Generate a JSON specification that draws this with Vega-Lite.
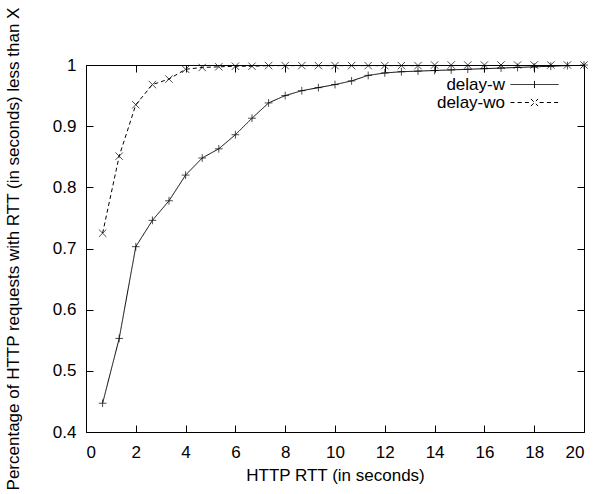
{
  "$schema": "https://vega.github.io/schema/vega-lite/v6.json",
  "autosize": "none",
  "width": 498,
  "height": 367,
  "padding": {"left": 86, "top": 65, "right": 12, "bottom": 62},
  "background": "white",
  "config": {
    "font": "Liberation Sans",
    "view": {"stroke": "black", "strokeWidth": 1},
    "axis": {"grid": false, "domain": false, "ticks": true, "tickColor": "black", "labelColor": "black", "titleColor": "black", "labelFontSize": 17, "titleFontSize": 17, "titleFontWeight": "normal", "labelFont": "Liberation Sans", "titleFont": "Liberation Sans", "tickWidth": 1, "tickSize": 7, "offset": -7}
  },
  "data": {
    "values": [
      {"series": "delay-w", "x": 0.667, "y": 0.447},
      {"series": "delay-w", "x": 1.333, "y": 0.553},
      {"series": "delay-w", "x": 2.0, "y": 0.703},
      {"series": "delay-w", "x": 2.667, "y": 0.746},
      {"series": "delay-w", "x": 3.333, "y": 0.778},
      {"series": "delay-w", "x": 4.0, "y": 0.820},
      {"series": "delay-w", "x": 4.667, "y": 0.848},
      {"series": "delay-w", "x": 5.333, "y": 0.863},
      {"series": "delay-w", "x": 6.0, "y": 0.886},
      {"series": "delay-w", "x": 6.667, "y": 0.913},
      {"series": "delay-w", "x": 7.333, "y": 0.938},
      {"series": "delay-w", "x": 8.0, "y": 0.950},
      {"series": "delay-w", "x": 8.667, "y": 0.958},
      {"series": "delay-w", "x": 9.333, "y": 0.963},
      {"series": "delay-w", "x": 10.0, "y": 0.968},
      {"series": "delay-w", "x": 10.667, "y": 0.974},
      {"series": "delay-w", "x": 11.333, "y": 0.983},
      {"series": "delay-w", "x": 12.0, "y": 0.987},
      {"series": "delay-w", "x": 12.667, "y": 0.989},
      {"series": "delay-w", "x": 13.333, "y": 0.990},
      {"series": "delay-w", "x": 14.0, "y": 0.991},
      {"series": "delay-w", "x": 14.667, "y": 0.992},
      {"series": "delay-w", "x": 15.333, "y": 0.993},
      {"series": "delay-w", "x": 16.0, "y": 0.994},
      {"series": "delay-w", "x": 16.667, "y": 0.995},
      {"series": "delay-w", "x": 17.333, "y": 0.996},
      {"series": "delay-w", "x": 18.0, "y": 0.997},
      {"series": "delay-w", "x": 18.667, "y": 0.998},
      {"series": "delay-w", "x": 19.333, "y": 0.999},
      {"series": "delay-w", "x": 20.0, "y": 1.0},
      {"series": "delay-wo", "x": 0.667, "y": 0.725},
      {"series": "delay-wo", "x": 1.333, "y": 0.851},
      {"series": "delay-wo", "x": 2.0, "y": 0.935},
      {"series": "delay-wo", "x": 2.667, "y": 0.968},
      {"series": "delay-wo", "x": 3.333, "y": 0.977},
      {"series": "delay-wo", "x": 4.0, "y": 0.993},
      {"series": "delay-wo", "x": 4.667, "y": 0.996},
      {"series": "delay-wo", "x": 5.333, "y": 0.997},
      {"series": "delay-wo", "x": 6.0, "y": 0.998},
      {"series": "delay-wo", "x": 6.667, "y": 0.998},
      {"series": "delay-wo", "x": 7.333, "y": 0.999},
      {"series": "delay-wo", "x": 8.0, "y": 0.999},
      {"series": "delay-wo", "x": 8.667, "y": 0.999},
      {"series": "delay-wo", "x": 9.333, "y": 0.999},
      {"series": "delay-wo", "x": 10.0, "y": 0.999},
      {"series": "delay-wo", "x": 10.667, "y": 0.999},
      {"series": "delay-wo", "x": 11.333, "y": 0.999},
      {"series": "delay-wo", "x": 12.0, "y": 0.999},
      {"series": "delay-wo", "x": 12.667, "y": 0.999},
      {"series": "delay-wo", "x": 13.333, "y": 0.999},
      {"series": "delay-wo", "x": 14.0, "y": 1.0},
      {"series": "delay-wo", "x": 14.667, "y": 1.0},
      {"series": "delay-wo", "x": 15.333, "y": 1.0},
      {"series": "delay-wo", "x": 16.0, "y": 1.0},
      {"series": "delay-wo", "x": 16.667, "y": 1.0},
      {"series": "delay-wo", "x": 17.333, "y": 1.0},
      {"series": "delay-wo", "x": 18.0, "y": 1.0},
      {"series": "delay-wo", "x": 18.667, "y": 1.0},
      {"series": "delay-wo", "x": 19.333, "y": 1.0},
      {"series": "delay-wo", "x": 20.0, "y": 1.0}
    ]
  },
  "resolve": {"axis": {"x": "independent", "y": "independent"}},
  "layer": [
    {
      "mark": {"type": "line", "strokeWidth": 1, "clip": true},
      "encoding": {
        "x": {"field": "x", "type": "quantitative", "scale": {"domain": [0, 20], "nice": false, "zero": false},
          "axis": {"orient": "bottom", "values": [0,2,4,6,8,10,12,14,16,18,20], "labelPadding": 12, "title": "HTTP RTT (in seconds)", "titlePadding": 7}},
        "y": {"field": "y", "type": "quantitative", "scale": {"domain": [0.4, 1], "nice": false, "zero": false},
          "axis": {"orient": "left", "values": [0.4,0.5,0.6,0.7,0.8,0.9,1], "format": "~g", "labelPadding": 10, "title": "Percentage of HTTP requests with RTT (in seconds) less than X", "titlePadding": 30}},
        "strokeDash": {"field": "series", "type": "nominal", "scale": {"domain": ["delay-w", "delay-wo"], "range": [[1, 0], [4, 3]]}, "legend": null},
        "color": {"field": "series", "type": "nominal", "scale": {"domain": ["delay-w", "delay-wo"], "range": ["black", "black"]},
          "legend": {
            "title": null,
            "orient": "none",
            "legendX": 440,
            "legendY": 11,
            "padding": 0,
            "labelFontSize": 17,
            "labelFont": "Liberation Sans",
            "labelColor": "black",
            "labelAlign": "right",
            "labelOffset": -38,
            "symbolSize": 64,
            "symbolStrokeWidth": 1,
            "symbolStrokeColor": "black",
            "symbolFillColor": "transparent",
            "rowPadding": 0,
            "encode": {
              "symbols": {"update": {
                "shape": {"signal": "datum.value === 'delay-w' ? 'M-6,0L6,0M0,-0.9L0,0.9' : 'M-6,0L-4.9,0M-4.2,0L-3.1,0M-2.4,0L-1.3,0M-0.9,-0.9L0.9,0.9M-0.9,0.9L0.9,-0.9M1.3,0L2.4,0M3.1,0L4.2,0M4.9,0L6,0'"},
                "strokeDash": {"value": [1, 0]},
                "fill": {"value": "transparent"},
                "stroke": {"value": "black"}
              }}
            }
          }}
      }
    },
    {
      "transform": [{"filter": "datum.series === 'delay-w'"}],
      "mark": {"type": "point", "filled": false, "strokeWidth": 1, "stroke": "black", "shape": "M-1,0L1,0M0,-1L0,1", "size": 60},
      "encoding": {
        "x": {"field": "x", "type": "quantitative", "scale": {"domain": [0, 20], "nice": false, "zero": false},
          "axis": {"orient": "top", "values": [0,2,4,6,8,10,12,14,16,18,20], "labels": false, "title": null}},
        "y": {"field": "y", "type": "quantitative", "scale": {"domain": [0.4, 1], "nice": false, "zero": false},
          "axis": {"orient": "right", "values": [0.4,0.5,0.6,0.7,0.8,0.9,1], "labels": false, "title": null}}
      }
    },
    {
      "transform": [{"filter": "datum.series === 'delay-wo'"}],
      "mark": {"type": "point", "filled": false, "strokeWidth": 1, "stroke": "black", "shape": "M-1,-1L1,1M-1,1L1,-1", "size": 55},
      "encoding": {
        "x": {"field": "x", "type": "quantitative", "scale": {"domain": [0, 20], "nice": false, "zero": false}, "axis": null},
        "y": {"field": "y", "type": "quantitative", "scale": {"domain": [0.4, 1], "nice": false, "zero": false}, "axis": null}
      }
    }
  ]
}
